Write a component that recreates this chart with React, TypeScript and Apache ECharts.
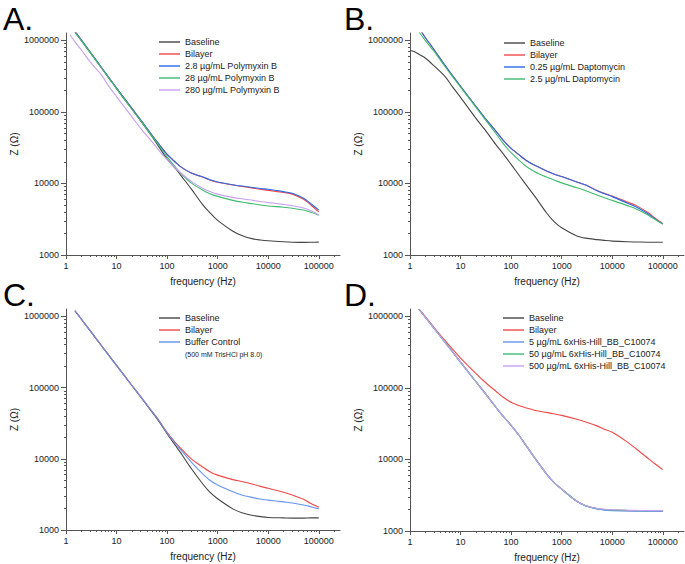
import React, { useEffect, useRef } from "react";
import * as echarts from "echarts";

const FONT = "Liberation Sans, Arial, sans-serif";

const FREQ = [1, 1.2, 1.5, 2, 3, 5, 7, 10, 20, 30, 50, 70, 100, 150, 200, 300, 500, 700, 1000, 2000, 3000, 5000, 7000, 10000, 20000, 30000, 50000, 70000, 100000];

const X_MAJOR = [1, 10, 100, 1000, 10000, 100000];
const Y_MAJOR = [1000, 10000, 100000, 1000000];
const X_MINOR = [2, 3, 4, 5, 6, 7, 8, 9, 20, 30, 40, 50, 60, 70, 80, 90, 200, 300, 400, 500, 600, 700, 800, 900, 2000, 3000, 4000, 5000, 6000, 7000, 8000, 9000, 20000, 30000, 40000, 50000, 60000, 70000, 80000, 90000, 200000];
const Y_MINOR = [2000, 3000, 4000, 5000, 6000, 7000, 8000, 9000, 20000, 30000, 40000, 50000, 60000, 70000, 80000, 90000, 200000, 300000, 400000, 500000, 600000, 700000, 800000, 900000];

const PANEL_LABELS = ["A.", "B.", "C.", "D."];

// Panel A — Polymyxin B
const A_NAMES = ["Baseline", "Bilayer", "2.8 µg/mL Polymyxin B", "28 µg/mL Polymyxin B", "280 µg/mL Polymyxin B"];
const A_BASELINE = [null, null, 1300000, 1000000, 680000, 415000, 300000, 212000, 110000, 75000, 45500, 32000, 22000, 15800, 12200, 8400, 5100, 3900, 3050, 2150, 1880, 1680, 1620, 1580, 1530, 1510, 1500, 1505, 1515];
const A_BILAYER = [null, null, 1350000, 1020000, 690000, 420000, 305000, 216000, 113000, 77500, 47500, 35000, 25500, 19500, 16500, 14000, 12300, 11200, 10400, 9500, 9100, 8600, 8300, 8000, 7500, 7100, 6000, 5000, 4000];
const A_PMB_2_8 = [null, null, 1350000, 1020000, 690000, 420000, 305000, 216000, 113000, 77500, 47500, 35000, 25500, 19500, 16500, 14000, 12400, 11300, 10500, 9600, 9200, 8800, 8500, 8300, 7700, 7300, 6200, 5200, 4250];
const A_PMB_28 = [null, null, 1300000, 1000000, 680000, 415000, 300000, 212000, 110000, 75500, 46000, 33500, 23500, 16500, 13200, 10200, 8100, 7200, 6600, 5800, 5500, 5200, 5000, 4850, 4650, 4500, 4250, 3950, 3600];
const A_PMB_280 = [null, 1200000, 960000, 740000, 500000, 330000, 230000, 164000, 86000, 59000, 38500, 28500, 21500, 16200, 13500, 10700, 8600, 7700, 7100, 6400, 6100, 5800, 5600, 5400, 5100, 4900, 4550, 4150, 3650];

// Panel B — Daptomycin
const B_NAMES = ["Baseline", "Bilayer", "0.25 µg/mL Daptomycin", "2.5 µg/mL Daptomycin"];
const B_BASELINE = [725000, 700000, 640000, 567000, 440000, 310000, 222000, 160000, 82000, 57000, 35000, 26000, 18500, 12500, 9500, 6500, 3900, 2950, 2400, 1850, 1720, 1640, 1600, 1565, 1530, 1520, 1510, 1510, 1510];
const B_BILAYER = [null, null, 1500000, 1100000, 740000, 440000, 320000, 228000, 120000, 83000, 54000, 40000, 31000, 24500, 21000, 17800, 15000, 13600, 12500, 10500, 9500, 8000, 7300, 6700, 5500, 4900, 3950, 3300, 2750];
const B_DAP_025 = [null, null, 1500000, 1100000, 740000, 440000, 320000, 228000, 120000, 83000, 54000, 40000, 31000, 24500, 21000, 17800, 15000, 13600, 12500, 10500, 9500, 7900, 7200, 6550, 5300, 4700, 3800, 3200, 2700];
const B_DAP_25 = [null, null, 1320000, 1000000, 700000, 425000, 310000, 222000, 117000, 80000, 50000, 36000, 27000, 20500, 17300, 14500, 12300, 11200, 10200, 8700, 7900, 6900, 6300, 5800, 4900, 4400, 3650, 3150, 2700];

// Panel C — Buffer control
const C_NAMES = ["Baseline", "Bilayer", "Buffer Control"];
const C_BASELINE = [null, null, 1200000, 920000, 630000, 390000, 285000, 205000, 108000, 74000, 45500, 33000, 22500, 15000, 11200, 7300, 4500, 3400, 2750, 1980, 1750, 1600, 1540, 1500, 1480, 1470, 1470, 1480, 1480];
const C_BILAYER = [null, null, 1200000, 920000, 630000, 390000, 285000, 205000, 108000, 74500, 46500, 34000, 23500, 16500, 13300, 10000, 7700, 6600, 5900, 5100, 4800, 4400, 4100, 3850, 3400, 3100, 2700, 2350, 2080];
const C_BUFFER = [null, null, 1200000, 920000, 630000, 390000, 285000, 205000, 108000, 74500, 46500, 34000, 23000, 16000, 12600, 9000, 6200, 5000, 4300, 3450, 3100, 2850, 2720, 2630, 2480, 2400, 2250, 2120, 1980];
const C_NOTE = "(500 mM TrisHCl pH 8.0)";

// Panel D — 6xHis-Hill_BB_C10074
const D_NAMES = ["Baseline", "Bilayer", "5 µg/mL 6xHis-Hill_BB_C10074", "50 µg/mL 6xHis-Hill_BB_C10074", "500 µg/mL 6xHis-Hill_BB_C10074"];
const D_BASELINE = [null, null, 1260000, 980000, 680000, 431000, 318000, 230000, 123000, 86000, 54000, 40000, 30000, 20800, 15500, 10300, 6300, 4800, 3850, 2600, 2250, 2050, 1990, 1960, 1930, 1920, 1910, 1900, 1900];
const D_BILAYER = [null, null, 1280000, 1000000, 700000, 455000, 345000, 262000, 160000, 122000, 90000, 74000, 63000, 56000, 52500, 48500, 45500, 43500, 41400, 36500, 33500, 29500, 26500, 24000, 17500, 14000, 10500, 8700, 7200];
const D_5 = [null, null, 1260000, 980000, 680000, 431000, 318000, 230000, 123000, 86000, 54000, 40000, 30000, 20800, 15500, 10300, 6300, 4800, 3850, 2600, 2230, 2030, 1960, 1930, 1900, 1890, 1880, 1870, 1870];
const D_50 = [null, null, 1260000, 980000, 680000, 431000, 318000, 230000, 123000, 86000, 54000, 40000, 30000, 20800, 15500, 10300, 6300, 4800, 3850, 2600, 2250, 2060, 2000, 1970, 1940, 1930, 1920, 1920, 1920];
const D_500 = [null, null, 1260000, 980000, 680000, 431000, 318000, 230000, 123000, 86000, 54000, 40000, 30000, 20800, 15500, 10300, 6300, 4800, 3850, 2600, 2260, 2070, 2010, 1980, 1950, 1940, 1930, 1930, 1930];

const C_BLACK = "#454545";
const C_RED = "#f04848";
const C_BLUE = "#2a6ae6";
const C_GREEN = "#40bb70";
const C_PURPLE = "#c6a0f2";
const C_LBLUE = "#6496ec";

const PANELS = [
  { names: A_NAMES, values: [A_BASELINE, A_BILAYER, A_PMB_2_8, A_PMB_28, A_PMB_280], colors: [C_BLACK, C_RED, C_BLUE, C_GREEN, C_PURPLE] },
  { names: B_NAMES, values: [B_BASELINE, B_BILAYER, B_DAP_025, B_DAP_25], colors: [C_BLACK, C_RED, C_BLUE, C_GREEN] },
  { names: C_NAMES, values: [C_BASELINE, C_BILAYER, C_BUFFER], colors: [C_BLACK, C_RED, C_LBLUE] },
  { names: D_NAMES, values: [D_BASELINE, D_BILAYER, D_5, D_50, D_500], colors: [C_BLACK, C_RED, C_LBLUE, C_GREEN, C_PURPLE] },
];

const GRIDS = [
  { left: 66, top: 33, width: 274, height: 222 },
  { left: 410, top: 33, width: 274, height: 222 },
  { left: 66, top: 309, width: 274, height: 221 },
  { left: 410, top: 309, width: 274, height: 222 },
];
const LEGEND_POS = [
  { left: 159, top: 36 },
  { left: 504, top: 37 },
  { left: 159, top: 312 },
  { left: 503, top: 312 },
];
const LABEL_POS = [
  { x: 3, y: 0 },
  { x: 344, y: 0 },
  { x: 3, y: 276 },
  { x: 344, y: 276 },
];

const X_MIN = 1;
const X_MAX = 263000;
const Y_MIN = 1000;
const Y_MAX = 1270000;

const AXIS_COLOR = "#555";

export default function App() {
  const ref = useRef<HTMLDivElement>(null);
  useEffect(() => {
    if (!ref.current) return;
    const chart = echarts.init(ref.current, undefined, { renderer: "svg" });
    const grid: any[] = [];
    const xAxis: any[] = [];
    const yAxis: any[] = [];
    const series: any[] = [];
    const legend: any[] = [];
    const graphic: any[] = [];

    PANELS.forEach((p, gi) => {
      grid.push({ ...GRIDS[gi], show: false });
      const baseX = {
        type: "log",
        logBase: 10,
        min: X_MIN,
        max: X_MAX,
        gridIndex: gi,
        position: "bottom",
        splitLine: { show: false },
      };
      const baseY = {
        type: "log",
        logBase: 10,
        min: Y_MIN,
        max: Y_MAX,
        gridIndex: gi,
        position: "left",
        splitLine: { show: false },
      };
      xAxis.push({
        ...baseX,
        name: "frequency (Hz)",
        nameLocation: "middle",
        nameGap: 21,
        nameTextStyle: { fontFamily: FONT, fontSize: 10, color: "#222" },
        axisLine: { show: true, lineStyle: { color: AXIS_COLOR, width: 1 } },
        axisTick: { show: true, inside: false, length: 4, customValues: X_MAJOR, lineStyle: { color: AXIS_COLOR } },
        axisLabel: { show: true, customValues: X_MAJOR, margin: 6, fontFamily: FONT, fontSize: 9, color: "#222", formatter: (v: number) => String(Math.round(v)) },
      });
      xAxis.push({
        ...baseX,
        axisLine: { show: false },
        axisTick: { show: true, inside: false, length: 2, customValues: X_MINOR, lineStyle: { color: AXIS_COLOR } },
        axisLabel: { show: false },
      });
      yAxis.push({
        ...baseY,
        name: "Z (Ω)",
        nameLocation: "middle",
        nameRotate: 90,
        nameGap: 47,
        nameTextStyle: { fontFamily: FONT, fontSize: 10, color: "#222" },
        axisLine: { show: true, lineStyle: { color: AXIS_COLOR, width: 1 } },
        axisTick: { show: true, inside: false, length: 5, customValues: Y_MAJOR, lineStyle: { color: AXIS_COLOR } },
        axisLabel: { show: true, customValues: Y_MAJOR, margin: 7, fontFamily: FONT, fontSize: 9, color: "#222", formatter: (v: number) => String(Math.round(v)) },
      });
      yAxis.push({
        ...baseY,
        axisLine: { show: false },
        axisTick: { show: true, inside: false, length: 2, customValues: Y_MINOR, lineStyle: { color: AXIS_COLOR } },
        axisLabel: { show: false },
      });

      p.names.forEach((name, si) => {
        const vals = p.values[si];
        const data = FREQ.map((f, i) => [f, vals[i]]).filter((d) => d[1] != null);
        series.push({
          type: "line",
          name,
          xAxisIndex: gi * 2,
          yAxisIndex: gi * 2,
          data,
          smooth: 0.3,
          symbol: "none",
          showSymbol: false,
          clip: true,
          lineStyle: { color: p.colors[si], width: 1.1 },
          itemStyle: { color: p.colors[si] },
          z: 2 + si,
        });
      });

      legend.push({
        data: p.names,
        orient: "vertical",
        left: LEGEND_POS[gi].left,
        top: LEGEND_POS[gi].top,
        icon: "rect",
        itemWidth: 21,
        itemHeight: 1.4,
        itemGap: 0,
        padding: 0,
        selectedMode: false,
        textStyle: { fontFamily: FONT, fontSize: 9, color: "#222", lineHeight: 12, height: 12 },
      });

      graphic.push({
        type: "text",
        x: LABEL_POS[gi].x,
        y: LABEL_POS[gi].y,
        style: { text: PANEL_LABELS[gi], font: `32px ${FONT}`, lineHeight: 37, fill: "#000", textVerticalAlign: "top", textAlign: "left" },
      });
    });

    graphic.push({
      type: "text",
      x: 185,
      y: 351,
      style: { text: C_NOTE, font: `7px ${FONT}`, fill: "#222", textVerticalAlign: "top", textAlign: "left" },
    });

    chart.setOption({
      animation: false,
      backgroundColor: "#fff",
      grid,
      xAxis,
      yAxis,
      series,
      legend,
      graphic,
    });
    return () => chart.dispose();
  }, []);

  return <div ref={ref} style={{ position: "fixed", left: 0, top: 0, width: 685, height: 564 }} />;
}
